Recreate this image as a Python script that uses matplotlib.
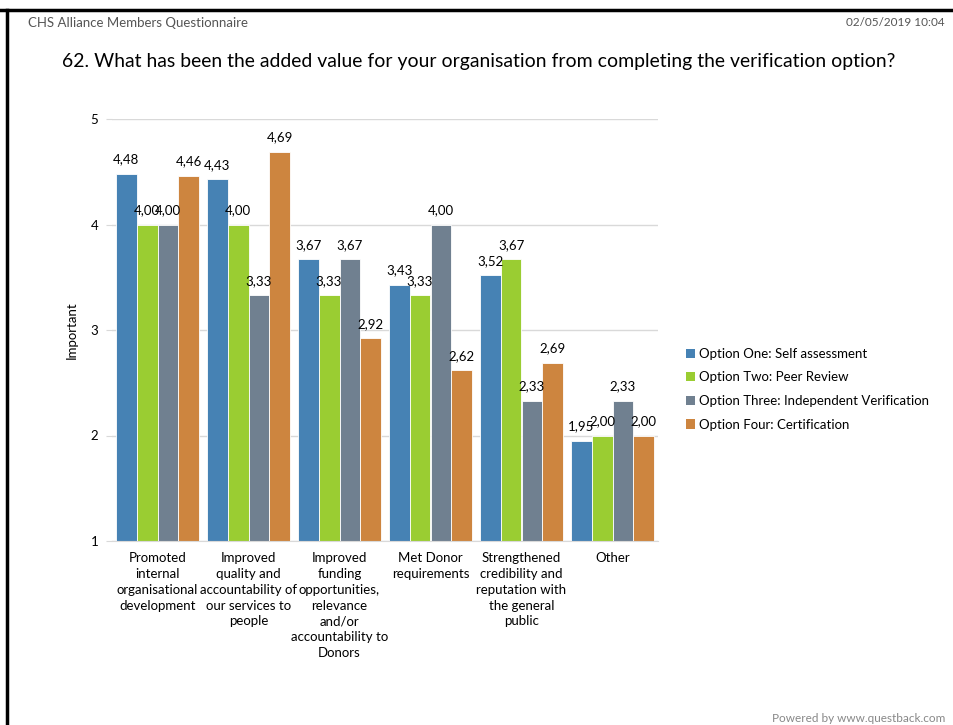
"""
Grouped bar chart: added value of the verification options
"""

import numpy as np
import matplotlib.pyplot as plt
from matplotlib.lines import Line2D
from matplotlib.patches import Patch

categories = [
    "Promoted\ninternal\norganisational\ndevelopment",
    "Improved\nquality and\naccountability of\nour services to\npeople",
    "Improved\nfunding\nopportunities,\nrelevance\nand/or\naccountability to\nDonors",
    "Met Donor\nrequirements",
    "Strengthened\ncredibility and\nreputation with\nthe general\npublic",
    "Other",
]
series_names = [
    "Option One: Self assessment",
    "Option Two: Peer Review",
    "Option Three: Independent Verification",
    "Option Four: Certification",
]
option_one = [4.48, 4.43, 3.67, 3.43, 3.52, 1.95]
option_two = [4.00, 4.00, 3.33, 3.33, 3.67, 2.00]
option_three = [4.00, 3.33, 3.67, 4.00, 2.33, 2.33]
option_four = [4.46, 4.69, 2.92, 2.62, 2.69, 2.00]
colors = ["#4682B4", "#9ACD32", "#708090", "#CD853F"]

plt.rcParams['font.family'] = ['Lato', 'DejaVu Sans']

W, H = 954, 725
fig = plt.figure(figsize=(W / 100, H / 100), dpi=100)

# page frame
fig.add_artist(Line2D([0, 1], [1 - 9.5 / H, 1 - 9.5 / H], color="black", lw=2.5))
fig.add_artist(Line2D([7.5 / W, 7.5 / W], [0, 1 - 9.5 / H], color="black", lw=2.5))

fig.text(28 / W, 1 - 23 / H, "CHS Alliance Members Questionnaire", fontsize=9.5,
         color="#555555", va="center")
fig.text(945 / W, 1 - 23 / H, "02/05/2019 10:04", fontsize=8.5, color="#555555",
         va="center", ha="right")
title = fig.text(62 / W, 1 - 62 / H,
                 "62. What has been the added value for your organisation from completing the verification option?",
                 fontsize=15.5, va="center", ha="left")
# shrink the title until it spans the page width
renderer = fig.canvas.get_renderer()
tw = title.get_window_extent(renderer).width
title.set_fontsize(15.5 * min(1.0, 831 / tw))
fig.text(945 / W, 1 - 718 / H, "Powered by www.questback.com", fontsize=8.5,
         color="#888888", va="center", ha="right")

ax = fig.add_axes([112 / W, 1 - 541 / H, (658 - 112) / W, (541 - 119) / H])

values = [option_one, option_two, option_three, option_four]
x = np.arange(len(categories))
bw = 0.23
for i, (vals, col, name) in enumerate(zip(values, colors, series_names)):
    pos = x + (i - 1.5) * bw
    ax.bar(pos, np.array(vals) - 1, bottom=1, width=bw, color=col,
           edgecolor="white", linewidth=0.6, label=name, zorder=2)
    for p, v in zip(pos, vals):
        ax.annotate(f"{v:.2f}".replace(".", ","), (p, v), xytext=(0, 6),
                    textcoords="offset points", ha="center", va="bottom",
                    fontsize=9.5)

ax.set_xlim(-0.5, len(categories) - 0.5)
ax.set_ylim(1, 5)
ax.set_yticks([1, 2, 3, 4, 5])
ax.yaxis.grid(True, color="#d9d9d9", lw=1, zorder=0)
ax.set_axisbelow(True)
for s in ["top", "right", "left"]:
    ax.spines[s].set_visible(False)
ax.spines["bottom"].set_color("#d9d9d9")
ax.tick_params(axis="y", length=4, color="#d9d9d9", labelsize=9.5, pad=6)
ax.tick_params(axis="x", length=0, labelsize=9.5, pad=8)
ax.set_xticks(x)
ax.set_xticklabels(categories, linespacing=1.38)
ax.set_ylabel("Important", fontsize=9.5, labelpad=9)

handles = [Patch(facecolor=c, edgecolor="none") for c in colors]
fig.legend(handles, series_names, loc="upper left",
           bbox_to_anchor=(674 / W, 1 - 336 / H), frameon=False,
           handlelength=0.7, handleheight=0.7, handletextpad=0.3,
           labelspacing=0.88, prop={"size": 9.5})

fig.savefig("out.png", dpi=100)
